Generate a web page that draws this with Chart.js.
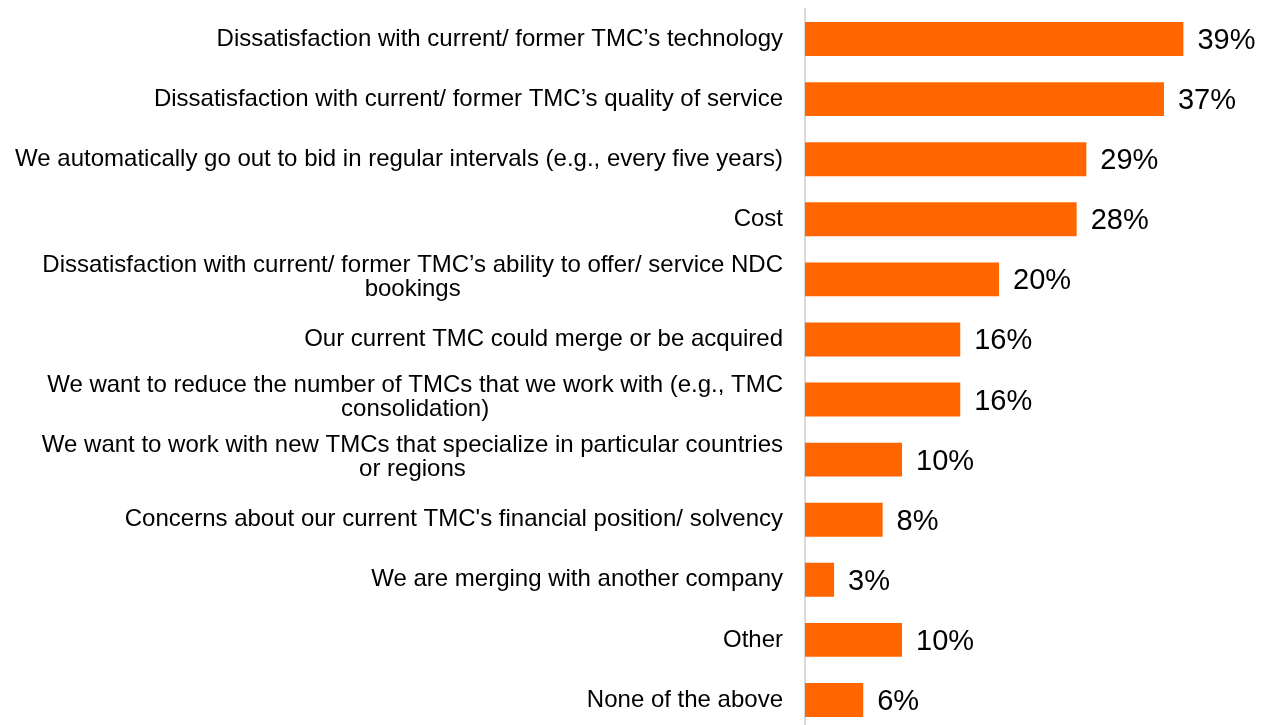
<!DOCTYPE html>
<html>
<head>
<meta charset="utf-8">
<script src="https://cdn.jsdelivr.net/npm/chart.js@4"></script>
<style>
  html, body { margin: 0; padding: 0; background: #fff; overflow: hidden; }
  #wrap { width: 1261px; height: 740px; }
</style>
</head>
<body>
<div id="wrap"><canvas id="chart" width="1261" height="740"></canvas></div>
<script>
// categories (line breaks as in the reference)
const categories = [
  ["Dissatisfaction with current/ former TMC\u2019s technology"],
  ["Dissatisfaction with current/ former TMC\u2019s quality of service"],
  ["We automatically go out to bid in regular intervals (e.g., every five years)"],
  ["Cost"],
  ["Dissatisfaction with current/ former TMC\u2019s ability to offer/ service NDC", "bookings"],
  ["Our current TMC could merge or be acquired"],
  ["We want to reduce the number of TMCs that we work with (e.g., TMC", "consolidation)"],
  ["We want to work with new TMCs that specialize in particular countries", "or regions"],
  ["Concerns about our current TMC's financial position/ solvency"],
  ["We are merging with another company"],
  ["Other"],
  ["None of the above"]
];
const values = [39, 37, 29, 28, 20, 16, 16, 10, 8, 3, 10, 6];

const LABEL_FONT = "24px 'Liberation Sans', Arial, sans-serif";
const VALUE_FONT = "29px 'Liberation Sans', Arial, sans-serif";

// draws the category labels: block right-aligned, lines centred within the block
const labelPlugin = {
  id: "labels",
  afterDraw(chart) {
    const ctx = chart.ctx;
    const y = chart.scales.y;
    ctx.save();
    ctx.font = LABEL_FONT;
    ctx.fillStyle = "#000";
    ctx.textAlign = "center";
    ctx.textBaseline = "middle";
    categories.forEach((lines, i) => {
      const cy = y.getPixelForTick(i);
      const w = Math.max(...lines.map(l => ctx.measureText(l).width));
      const cx = 783 - w / 2;
      const lh = 24;
      const top = cy - (lines.length - 1) * lh / 2 - (lines.length > 1 ? 2 : 0);
      lines.forEach((l, j) => ctx.fillText(l, cx, top + j * lh));
    });

    // value labels
    const meta = chart.getDatasetMeta(0);
    ctx.font = VALUE_FONT;
    ctx.textAlign = "left";
    meta.data.forEach((bar, i) => {
      ctx.fillText(values[i] + "%", bar.x + 14, bar.y + 2);
    });
    ctx.restore();
  }
};

new Chart(document.getElementById("chart"), {
  type: "bar",
  data: {
    labels: categories.map(c => c.join(" ")),
    datasets: [{
      data: values,
      backgroundColor: "#FF6600",
      borderWidth: 0,
      barPercentage: 0.565,
      categoryPercentage: 1
    }]
  },
  options: {
    indexAxis: "y",
    responsive: false,
    animation: false,
    layout: { padding: { top: 9, bottom: 10, left: 0, right: 0 } },
    plugins: { legend: { display: false }, tooltip: { enabled: false } },
    scales: {
      x: {
        min: 0,
        max: 47,
        display: false
      },
      y: {
        grid: { display: false, drawTicks: false },
        border: { display: true, color: "#d9d9d9", width: 2 },
        ticks: { display: false },
        afterFit(scale) { scale.width = 805; }
      }
    }
  },
  plugins: [labelPlugin]
});
</script>
</body>
</html>
